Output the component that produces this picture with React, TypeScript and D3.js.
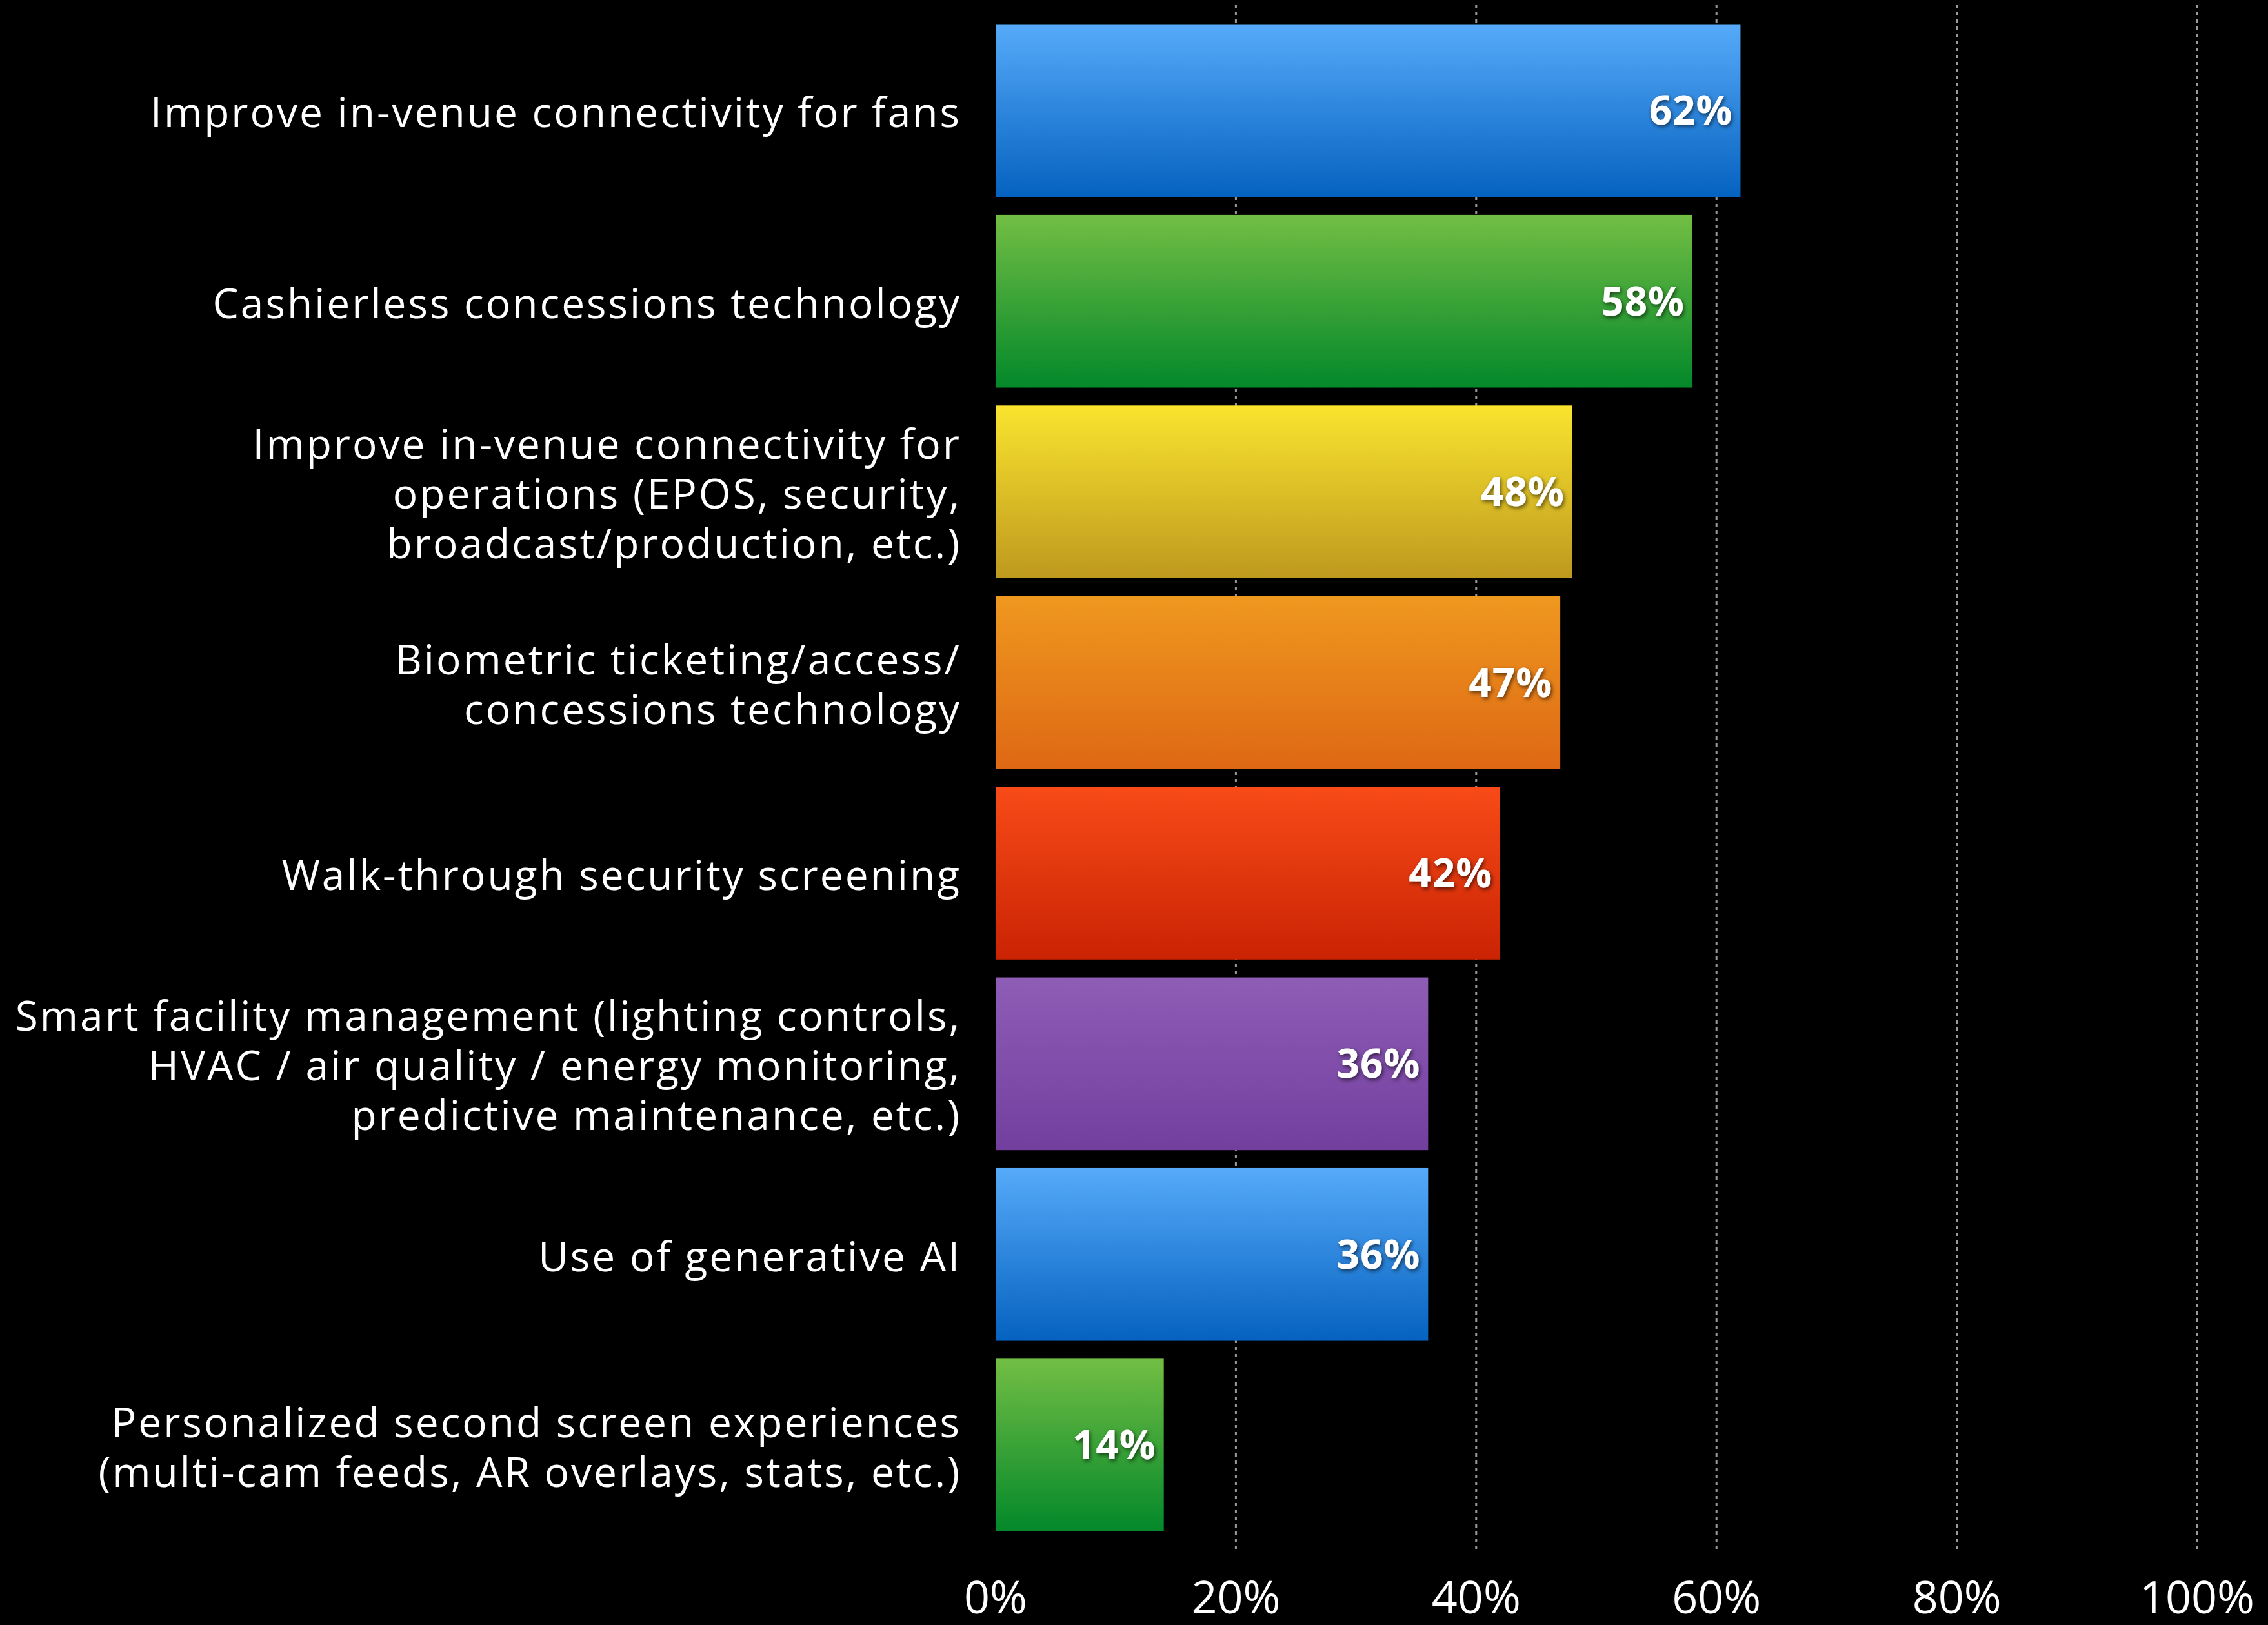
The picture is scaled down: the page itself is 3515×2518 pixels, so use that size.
import React from "react";
import * as d3 from "d3";

const categories: string[][] = [
  ["Improve in-venue connectivity for fans"],
  ["Cashierless concessions technology"],
  ["Improve in-venue connectivity for", "operations (EPOS, security,", "broadcast/production, etc.)"],
  ["Biometric ticketing/access/", "concessions technology"],
  ["Walk-through security screening"],
  ["Smart facility management (lighting controls,", "HVAC / air quality / energy monitoring,", "predictive maintenance, etc.)"],
  ["Use of generative AI"],
  ["Personalized second screen experiences", "(multi-cam feeds, AR overlays, stats, etc.)"],
];
const values: number[] = [62, 58, 48, 47, 42, 36, 36, 14];
const gradientTop: string[] = ["#56aaf9", "#72be44", "#fae42f", "#ef981f", "#f84b18", "#8e5db5", "#56aaf9", "#72be44"];
const gradientBottom: string[] = ["#0562c0", "#03882a", "#be991e", "#de6814", "#ca2304", "#733f9f", "#0562c0", "#03882a"];
const tickValues: number[] = [0, 20, 40, 60, 80, 100];
const tickLabels: string[] = ["0%", "20%", "40%", "60%", "80%", "100%"];

const W = 3515;
const H = 2518;
const FONT = "'Open Sans', 'Noto Sans', sans-serif";

export default function App() {
  const x = d3.scaleLinear().domain([0, 100]).range([1543, 3405]);
  const y = d3
    .scaleBand<number>()
    .domain(d3.range(values.length))
    .range([37.5, 2373])
    .paddingInner(0.094)
    .paddingOuter(0);
  const bw = y.bandwidth();
  const lineH = 77;
  const catSize = 64;

  return (
    <svg
      width={W}
      height={H}
      style={{ position: "absolute", left: 0, top: 0, background: "#000" }}
    >
      <defs>
        {values.map((_, i) => (
          <linearGradient key={i} id={`g${i}`} x1="0" y1="0" x2="0" y2="1">
            <stop offset="0%" stopColor={gradientTop[i]} />
            <stop offset="100%" stopColor={gradientBottom[i]} />
          </linearGradient>
        ))}
        <filter id="shadow" x="-20%" y="-30%" width="140%" height="160%">
          <feDropShadow dx="2" dy="3" stdDeviation="3" floodColor="#000" floodOpacity="0.6" />
        </filter>
      </defs>
      <rect x={0} y={0} width={W} height={H} fill="#000" />
      {/* gridlines */}
      {tickValues
        .filter((t) => t > 0)
        .map((t) => (
          <line
            key={t}
            x1={x(t)}
            x2={x(t)}
            y1={8}
            y2={2401}
            stroke="#9a9a9a"
            strokeWidth={3}
            strokeDasharray="5,6"
          />
        ))}
      {/* bars */}
      {values.map((v, i) => (
        <rect
          key={i}
          x={x(0)}
          y={y(i)}
          width={x(v) - x(0)}
          height={bw}
          fill={`url(#g${i})`}
        />
      ))}
      {/* value labels */}
      {values.map((v, i) => (
        <text
          key={i}
          x={x(v) - 12}
          y={(y(i) as number) + bw / 2 + 22}
          textAnchor="end"
          fill="#fff"
          fontFamily={FONT}
          fontWeight={700}
          fontSize={62}
          letterSpacing={1}
          filter="url(#shadow)"
        >
          {v}%
        </text>
      ))}
      {/* category labels */}
      {categories.map((lines, i) => {
        const cy = (y(i) as number) + bw / 2;
        const n = lines.length;
        return (
          <text
            key={i}
            textAnchor="end"
            fill="#fff"
            fontFamily={FONT}
            fontWeight={500}
            fontSize={catSize}
            letterSpacing={3}
          >
            {lines.map((l, j) => (
              <tspan key={j} x={1490} y={cy + 26 + (j - (n - 1) / 2) * lineH}>
                {l}
              </tspan>
            ))}
          </text>
        );
      })}
      {/* x tick labels */}
      {tickValues.map((t, i) => (
        <text
          key={t}
          x={x(t)}
          y={2500}
          textAnchor="middle"
          fill="#fff"
          fontFamily={FONT}
          fontWeight={500}
          fontSize={70}
        >
          {tickLabels[i]}
        </text>
      ))}
    </svg>
  );
}
